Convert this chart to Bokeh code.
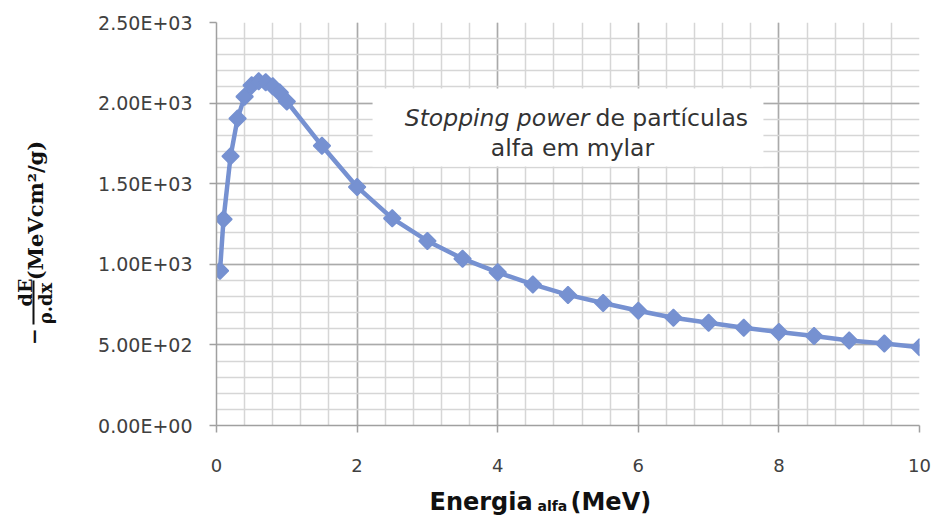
import numpy as np
from bokeh.plotting import figure
from bokeh.layouts import column, row
from bokeh.models import Range1d, FixedTicker, Label, BoxAnnotation, ColumnDataSource
from bokeh.embed import file_html
from bokeh.resources import INLINE

# Stopping power of alpha particles in mylar (MeV cm^2/g) versus energy (MeV)
energy = [0.05, 0.1, 0.2, 0.3, 0.4, 0.5, 0.6, 0.7, 0.8, 0.9, 1.0,
          1.5, 2.0, 2.5, 3.0, 3.5, 4.0, 4.5, 5.0, 5.5, 6.0, 6.5,
          7.0, 7.5, 8.0, 8.5, 9.0, 9.5, 10.0]
stopping = [960, 1280, 1670, 1905, 2040, 2110, 2135, 2130, 2105, 2065, 2010,
            1735, 1480, 1285, 1145, 1035, 950, 875, 810, 760, 712, 668,
            637, 606, 580, 555, 527, 509, 486]

x_ticks = [0, 2, 4, 6, 8, 10]
y_ticks = [0, 500, 1000, 1500, 2000, 2500]
y_tick_labels = ["0.00E+00", "5.00E+02", "1.00E+03", "1.50E+03", "2.00E+03", "2.50E+03"]

LINE_BLUE = "#7691D1"
TICK_GREY = "#404040"
TITLE_INK = "#111111"

W, H = 935, 529          # whole page
TITLE_W = 60             # strip on the left for the y title
TITLE_H = 40             # strip at the bottom for the x title
L, R, T, B = 216, 16, 22, 104   # frame borders measured on the whole page

p = figure(width=W - TITLE_W, height=H - TITLE_H, output_backend="svg",
           toolbar_location=None,
           x_range=Range1d(0, 10), y_range=Range1d(0, 2500),
           min_border_left=L - TITLE_W, min_border_right=R,
           min_border_top=T, min_border_bottom=B - TITLE_H)
p.outline_line_color = None
p.background_fill_color = "white"
p.border_fill_color = "white"

p.xaxis.ticker = FixedTicker(ticks=x_ticks,
                             minor_ticks=list(np.round(np.arange(0, 10.01, 0.4), 2)))
p.yaxis.ticker = FixedTicker(ticks=y_ticks, minor_ticks=list(range(0, 2501, 100)))
p.yaxis.major_label_overrides = dict(zip(y_ticks, y_tick_labels))

for ax in (p.xaxis, p.yaxis):
    ax.axis_line_color = "#A0A0A0"
    ax.axis_line_width = 1.5
    ax.major_tick_line_color = "#A0A0A0"
    ax.major_tick_line_width = 1.5
    ax.major_tick_out = 7
    ax.major_tick_in = 0
    ax.minor_tick_line_color = None
    ax.major_label_text_font = "DejaVu Sans"
    ax.major_label_text_color = TICK_GREY

p.yaxis.major_label_text_font_size = "19px"
p.yaxis.major_label_standoff = 17
p.xaxis.major_label_text_font_size = "18px"
p.xaxis.major_label_standoff = 26

for g in (p.xgrid, p.ygrid):
    g.grid_line_color = "#AAAAAA"
    g.grid_line_width = 1.5
    g.minor_grid_line_color = "#D6D6D6"
    g.minor_grid_line_width = 1.5

src = ColumnDataSource(dict(x=energy, y=stopping))
p.line("x", "y", source=src, line_color=LINE_BLUE, line_width=4.5)
p.scatter("x", "y", source=src, marker="square", angle=np.pi / 4, size=12,
          fill_color=LINE_BLUE, line_color=LINE_BLUE, line_width=1.5)

# white caption box inside the plot
p.add_layout(BoxAnnotation(left=2.22, right=7.78, bottom=1607, top=2091,
                           fill_color="white", fill_alpha=1.0, line_color=None))

frame_bottom = H - B


def fx(cx):
    return cx - L


def fy(cy):
    return frame_bottom - cy


cap = dict(x_units="screen", y_units="screen", text_font="DejaVu Sans",
           text_font_size="23.5px", text_color="#333333", text_baseline="alphabetic")
p.add_layout(Label(x=fx(589), y=fy(117), text="Stopping power", text_align="right",
                   text_font_style="italic", **cap))
p.add_layout(Label(x=fx(595), y=fy(117), text="de partículas", text_align="left", **cap))
p.add_layout(Label(x=fx(572), y=fy(147), text="alfa em mylar", text_align="center", **cap))


def blank(width, height, y_top, y_bottom, border_top=0, border_bottom=0):
    """Empty strip whose data coordinates are page pixels (y grows downwards)."""
    f = figure(width=width, height=height, output_backend="svg", toolbar_location=None,
               x_range=Range1d(0, width), y_range=Range1d(y_bottom, y_top),
               x_axis_type=None, y_axis_type=None, min_border=0,
               min_border_top=border_top, min_border_bottom=border_bottom)
    f.outline_line_color = None
    f.grid.visible = False
    f.background_fill_color = "white"
    f.border_fill_color = "white"
    return f


# y axis title:  - dE / (rho.dx)  (MeV cm^2/g), rotated; its frame spans the plot frame
ytitle = blank(TITLE_W, H - TITLE_H, T, H - B, border_top=T, border_bottom=B - TITLE_H)
yt = dict(text_font="DejaVu Serif", text_font_style="bold", text_color=TITLE_INK,
          angle=np.pi / 2, text_align="center", text_baseline="middle")
ytitle.add_layout(Label(x=33, y=336, text="−", text_font_size="20px", **yt))
ytitle.add_layout(Label(x=24, y=292, text="dE", text_font_size="19px", **yt))
ytitle.add_layout(Label(x=45, y=303, text="ρ.dx", text_font_size="18px", **yt))
ytitle.add_layout(Label(x=35, y=210, text="(MeVcm²/g)", text_font_size="21px", **yt))
ytitle.segment(x0=[33], y0=[280], x1=[33], y1=[324], line_color=TITLE_INK, line_width=2)

# x axis title: Energia_alfa (MeV)
xtitle = blank(W, TITLE_H, H - TITLE_H, H)
xt = dict(text_font="DejaVu Sans", text_font_style="bold", text_color=TITLE_INK,
          text_baseline="alphabetic", text_align="left")
xtitle.add_layout(Label(x=429, y=501, text="Energia", text_font_size="24px", **xt))
xtitle.add_layout(Label(x=537, y=505, text="alfa", text_font_size="14px", **xt))
xtitle.add_layout(Label(x=570, y=501, text="(MeV)", text_font_size="24px", **xt))

page = column(row(ytitle, p, spacing=0), xtitle, spacing=0)

open("out.html", "w").write(file_html(page, INLINE))
